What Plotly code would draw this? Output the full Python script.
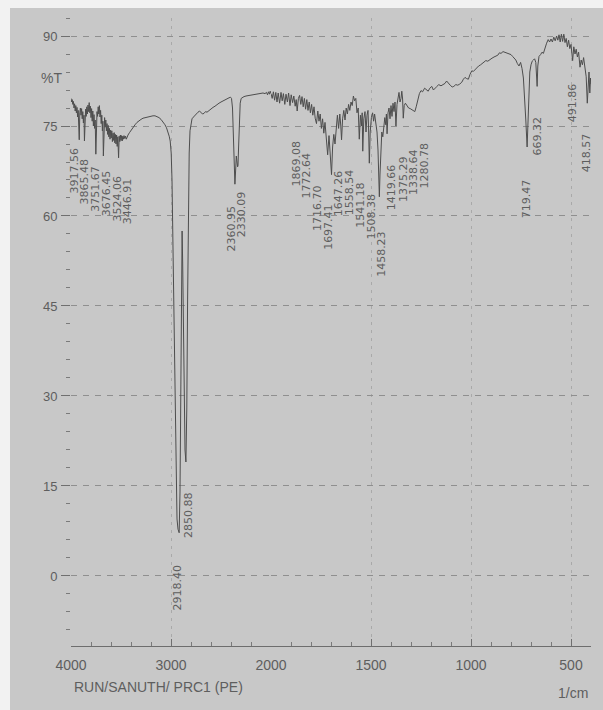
import plotly.graph_objects as go

# FTIR transmission spectrum (wavenumber in 1/cm, transmittance in %T)
WAVENUMBER = [
    4000, 3994, 3988, 3982, 3976, 3970, 3964, 3958, 3952, 3946, 3940, 3934, 3928, 3922,
    3917.56, 3912, 3906, 3900, 3894, 3888, 3882, 3876, 3870, 3865.48, 3860, 3854, 3848,
    3842, 3836, 3830, 3824, 3818, 3812, 3806, 3800, 3794, 3788, 3782, 3776, 3770, 3764,
    3758, 3751.67, 3746, 3740, 3734, 3728, 3722, 3716, 3710, 3704, 3698, 3692, 3686, 3681,
    3676.45, 3670, 3664, 3658, 3652, 3646, 3640, 3634, 3628, 3622, 3616, 3610, 3604, 3598,
    3592, 3586, 3580, 3574, 3568, 3562, 3556, 3550, 3544, 3538, 3532, 3524.06, 3518, 3512,
    3506, 3500, 3494, 3488, 3482, 3476, 3470, 3462, 3454, 3446.91, 3440, 3430, 3415, 3400,
    3380, 3360, 3340, 3320, 3300, 3280, 3260, 3240, 3220, 3200, 3180, 3160, 3140, 3120,
    3100, 3080, 3060, 3045, 3030, 3018, 3008, 2998, 2990, 2982, 2974, 2966, 2958, 2950,
    2940, 2930, 2918.40, 2910, 2902, 2896, 2889, 2883, 2876, 2868, 2860, 2850.88, 2842,
    2834, 2826, 2818, 2810, 2800, 2790, 2775, 2760, 2745, 2730, 2715, 2700, 2685, 2670,
    2655, 2640, 2620, 2600, 2580, 2560, 2540, 2520, 2500, 2480, 2460, 2440, 2420, 2405,
    2395, 2385, 2376, 2368, 2360.95, 2354, 2347, 2340, 2334, 2330.09, 2324, 2316, 2308,
    2298, 2285, 2270, 2250, 2220, 2190, 2160, 2130, 2100, 2080, 2060, 2045, 2035, 2025,
    2015, 2008, 2000,
    1994, 1988, 1982, 1976, 1970, 1964, 1957, 1950, 1944, 1938, 1931, 1925, 1918, 1912,
    1905, 1899, 1892, 1886, 1879, 1874, 1869.08, 1863, 1857, 1851, 1845, 1839, 1833, 1827,
    1821, 1815, 1809, 1803, 1797, 1791, 1785, 1779, 1772.64, 1766, 1760, 1754, 1748, 1742,
    1736, 1730, 1724, 1716.70, 1710, 1704, 1697.41, 1692, 1686, 1680, 1674, 1668, 1662,
    1656, 1651, 1647.26, 1642, 1636, 1630, 1624, 1618, 1612, 1606, 1600, 1594, 1588, 1582,
    1576, 1570, 1564, 1558.54, 1553, 1548, 1544, 1541.18, 1536, 1530, 1525, 1520, 1515,
    1512, 1508.38, 1504, 1498, 1492, 1487, 1482, 1476, 1470, 1465, 1461, 1458.23, 1455,
    1451, 1446, 1441, 1436, 1431, 1426, 1423, 1419.66, 1415, 1410, 1405, 1400, 1395, 1390,
    1385, 1380, 1375.29, 1370, 1365, 1360, 1355, 1350, 1346, 1342, 1338.64, 1334, 1328,
    1320, 1312, 1304, 1296, 1288, 1280.78, 1274, 1266, 1258, 1250, 1242, 1232, 1224, 1214,
    1206, 1196, 1188, 1180, 1170, 1162, 1150, 1140, 1130, 1122, 1112, 1104, 1094, 1086,
    1076, 1066, 1056, 1046, 1038, 1030, 1022, 1013, 1005, 996, 988, 980, 970, 962, 952,
    944, 935, 926, 916, 906, 895, 885, 875, 866, 858, 850, 840, 830, 820, 810, 800, 792,
    785, 776, 768, 760, 752, 745, 738, 732, 726, 719.47, 714, 710, 706, 700, 694, 688, 682,
    676, 672, 669.32, 666, 660, 652, 645, 638, 630, 622, 614, 607, 600, 593, 586, 579, 572,
    566, 560, 554, 548, 542, 536, 530, 524, 518, 512, 506, 500, 491.86, 486, 480, 474, 468,
    462, 455, 449, 443, 437, 430, 424, 418.57, 414, 410, 406, 402, 400,
]

TRANSMITTANCE = [
    79.6, 79.0, 79.4, 78.6, 79.1, 78.0, 78.7, 77.5, 78.4, 77.2, 78.1, 76.5, 77.6, 75.0,
    72.7, 77.2, 78.0, 76.8, 77.9, 76.2, 77.4, 75.5, 76.8, 72.5, 76.5, 77.8, 76.6,
    78.2, 77.0, 78.5, 77.4, 78.9, 77.2, 78.3, 76.4, 77.9, 75.8, 77.5, 75.0, 76.9, 74.6,
    76.0, 70.3, 76.2, 77.4, 76.6, 78.2, 77.0, 78.4, 76.5, 77.6, 75.4, 76.8, 74.2, 75.8,
    70.0, 75.3, 76.4, 74.8, 76.0, 74.2, 75.4, 73.6, 75.1, 73.2, 74.6, 72.8, 74.3, 73.0,
    74.2, 72.4, 73.8, 72.6, 73.9, 72.2, 73.6, 72.0, 73.5, 71.6, 73.2, 69.7, 73.3, 72.4,
    73.5, 72.6, 73.4, 72.5, 73.3, 72.8, 73.4, 72.9, 73.3, 72.8, 73.2, 73.5, 73.9, 74.3,
    74.8, 75.2, 75.6, 75.9, 76.1, 76.3, 76.4, 76.5, 76.6, 76.7, 76.7, 76.7, 76.6, 76.4,
    76.1, 75.7, 75.2, 74.7, 74.0, 73.3, 72.5, 70.5, 66.0, 57.0, 45.0, 33.0, 22.0, 14.0,
    9.5, 7.8, 7.2, 14.0, 32.0, 50.0, 57.5, 52.0, 38.0, 27.0, 21.0, 19.0, 28.0,
    46.0, 62.0, 70.5, 74.2, 75.6, 76.2, 76.5, 76.8, 77.1, 77.3, 77.5, 77.2, 77.0, 77.1,
    77.4, 77.3, 77.6, 77.9, 78.1, 78.3, 78.6, 78.8, 79.0, 79.2, 79.4, 79.5, 79.7, 79.8,
    79.6, 78.0, 72.0, 67.0, 65.3, 67.5, 70.0, 69.0, 68.2, 68.4, 71.5, 76.0, 78.8,
    79.6, 79.8, 79.9, 80.0, 80.1, 80.2, 80.3, 80.4, 80.4, 80.5, 80.4, 80.6, 80.2, 80.7,
    80.3, 80.8, 80.4,
    79.6, 80.7, 79.3, 80.6, 79.0, 80.5, 78.8, 80.6, 79.2, 80.4, 78.6, 80.3, 79.0, 80.5,
    78.4, 80.2, 78.9, 80.0, 78.3, 79.4, 77.5, 79.6, 80.1, 78.6, 79.9, 78.2, 79.6, 77.8,
    79.4, 77.6, 79.0, 77.2, 78.6, 76.8, 78.2, 76.3, 75.4, 77.5, 75.8, 77.0, 74.6, 76.2,
    73.8, 75.6, 73.0, 70.2, 73.4, 71.0, 66.9, 71.5, 73.6, 72.0, 75.0, 76.8, 74.6,
    77.0, 75.0, 72.7, 76.2, 77.6, 76.0, 78.0, 77.0, 78.6, 77.6, 79.0, 78.4, 80.0, 79.2,
    79.6, 77.2, 78.0, 72.8, 76.8, 75.0, 77.2, 70.8, 76.2, 77.4, 74.0, 76.8, 77.6,
    74.5, 68.8, 74.0, 76.4, 77.2, 75.8, 77.0, 75.2, 74.0, 71.0, 66.0, 63.2, 67.0,
    72.0, 74.0, 73.2, 75.4, 76.4, 75.2, 77.0, 73.7, 77.2, 78.0, 76.2, 78.4, 76.6, 78.8,
    77.4, 79.0, 75.0, 78.6, 80.0, 80.6, 79.0, 79.6, 80.8, 79.5, 76.3, 78.4, 78.8,
    78.4, 78.0, 77.9, 77.7, 77.6, 77.4, 78.2, 79.4, 80.4, 80.9, 80.7, 81.3, 81.0, 80.8,
    81.3, 81.6, 81.0, 81.2, 81.6, 81.9, 81.7, 81.9, 82.1, 82.5, 82.0, 81.8, 81.5, 81.6,
    81.9, 81.8, 82.0, 82.3, 82.8, 83.1, 82.9, 82.8, 83.6, 84.2, 84.1, 84.4, 84.8, 85.0, 85.2,
    85.4, 85.7, 85.9, 85.8, 86.1, 86.3, 86.5, 86.7, 86.8, 87.2, 87.1, 87.4, 87.3, 87.2, 87.1, 86.9, 86.6,
    86.4, 86.0, 85.4, 85.0, 85.6, 84.6, 83.0, 80.0, 76.0, 71.5, 76.0, 81.0, 84.0, 85.2, 85.8, 86.0, 86.2,
    85.6, 84.0, 81.6, 85.0, 86.6, 86.9, 87.3, 87.1, 88.2, 88.8, 89.4, 89.0, 89.5, 89.0, 89.8, 89.2, 90.0,
    89.3, 90.2, 89.0, 90.3, 89.1, 90.3, 88.9, 89.6, 88.2, 89.3, 87.9, 88.6, 85.9, 88.2, 87.0, 87.8, 86.5,
    87.3, 84.8, 86.0, 85.2, 86.4, 84.4, 83.2, 78.8, 82.5, 84.0, 80.5, 83.0, 82.0,
]

# Peak annotations and the %T level where each label's top edge sits
PEAK_LABELS = [
    "3917.56", "3865.48", "3751.67", "3676.45", "3524.06", "3446.91",
    "2918.40", "2850.88", "2360.95", "2330.09",
    "1869.08", "1772.64", "1716.70", "1697.41", "1647.26", "1558.54", "1541.18",
    "1508.38", "1458.23", "1419.66", "1375.29", "1338.64", "1280.78",
    "719.47", "669.32", "491.86", "418.57",
]
LABEL_TOPS = [
    71.7, 70.0, 68.7, 67.9, 67.1, 66.6,
    2.3, 14.3, 62.1, 64.4,
    72.9, 71.0, 65.5, 62.3, 68.0, 68.1, 66.1,
    64.1, 57.8, 69.0, 70.3, 71.6, 72.6,
    66.5, 76.9, 82.5, 74.1,
]

Y_TICKS = [0, 15, 30, 45, 60, 75, 90]
X_TICKS_HIGH = [4000, 3000]
X_TICKS_LOW = [2000, 1500, 1000, 500]

BG = "#c8c8c8"
INK = "#4d4d4d"
TEXT = "#5e5e5e"
FONT = "Liberation Sans, Arial, sans-serif"
LABEL_FONT = "DejaVu Sans, Verdana, sans-serif"

W, H = 603, 710
# plot area in pixels; wavenumber axis changes scale at 2000 1/cm
X_LEFT, X_MID, X_RIGHT = 71, 271, 591
Y_TOP, Y_BOTTOM = 18, 646
LABEL_GAP = 10.6  # minimum horizontal spacing between vertical peak labels


def wn_to_px(wn):
    if wn >= 2000:
        return X_LEFT + (4000 - wn) / 2000 * (X_MID - X_LEFT)
    return X_MID + (2000 - wn) / 1600 * (X_RIGHT - X_MID)


def spread_labels(centers, gap):
    """Push crowded label positions apart, keeping each group centred."""
    groups = [[c] for c in sorted(centers)]

    def placed(g):
        mid = sum(g) / len(g)
        start = mid - (len(g) - 1) * gap / 2
        return [start + i * gap for i in range(len(g))]

    merged = True
    while merged:
        merged = False
        for i in range(len(groups) - 1):
            if placed(groups[i + 1])[0] - placed(groups[i])[-1] < gap:
                groups[i] = groups[i] + groups.pop(i + 1)
                merged = True
                break
    out = {}
    for g in groups:
        for c, p in zip(g, placed(g)):
            out[c] = p
    return out


high = [(w, t) for w, t in zip(WAVENUMBER, TRANSMITTANCE) if w >= 2000]
low = [(w, t) for w, t in zip(WAVENUMBER, TRANSMITTANCE) if w <= 2000]

fig = go.Figure()
fig.add_trace(go.Scatter(
    x=[p[0] for p in high], y=[p[1] for p in high], mode="lines",
    line=dict(color=INK, width=1), xaxis="x", yaxis="y", showlegend=False,
    hoverinfo="skip",
))
fig.add_trace(go.Scatter(
    x=[p[0] for p in low], y=[p[1] for p in low], mode="lines",
    line=dict(color=INK, width=1), xaxis="x2", yaxis="y", showlegend=False,
    hoverinfo="skip",
))

dip_px = [wn_to_px(float(lab)) for lab in PEAK_LABELS]
label_px = spread_labels(dip_px, LABEL_GAP)

annotations = []
for lab, top, px in zip(PEAK_LABELS, LABEL_TOPS, dip_px):
    wn = float(lab)
    annotations.append(dict(
        x=wn, y=top, xref="x" if wn > 2000 else "x2", yref="y",
        xshift=label_px[px] - px,
        text=lab, textangle=-90, showarrow=False,
        xanchor="center", yanchor="top",
        font=dict(family=LABEL_FONT, size=11, color=TEXT),
    ))

annotations += [
    dict(x=51 / W, y=(H - 78) / H, xref="paper", yref="paper", text="%T",
         showarrow=False, xanchor="center", yanchor="middle",
         font=dict(family=FONT, size=14, color=TEXT)),
    dict(x=72 / W, y=(H - 687) / H, xref="paper", yref="paper",
         text="RUN/SANUTH/ PRC1 (PE)", showarrow=False,
         xanchor="left", yanchor="middle",
         font=dict(family=FONT, size=14, color=TEXT)),
    dict(x=590 / W, y=(H - 693) / H, xref="paper", yref="paper", text="1/cm",
         showarrow=False, xanchor="right", yanchor="middle",
         font=dict(family=FONT, size=14, color=TEXT)),
]

common_x = dict(
    showline=True, linecolor="#6e6e6e", linewidth=1,
    ticks="inside", ticklen=7, tickcolor="#707070",
    tickfont=dict(family=FONT, size=14, color=TEXT),
    ticklabelstandoff=6,
    showgrid=True, gridcolor="#a9a9a9", griddash="3px,5px", gridwidth=1,
    zeroline=False, anchor="y", fixedrange=True, automargin=False,
)

fig.update_layout(
    width=W, height=H,
    margin=dict(l=0, r=0, t=0, b=0, autoexpand=False),
    paper_bgcolor=BG, plot_bgcolor=BG,
    xaxis=dict(
        domain=[X_LEFT / W, X_MID / W], range=[4000, 2000],
        tickmode="array", tickvals=X_TICKS_HIGH,
        ticktext=[str(v) for v in X_TICKS_HIGH],
        minor=dict(ticks="inside", ticklen=4, tickcolor="#7a7a7a", dtick=200, tick0=4000,
                   showgrid=False),
        **common_x,
    ),
    xaxis2=dict(
        domain=[X_MID / W, X_RIGHT / W], range=[2000, 400],
        tickmode="array", tickvals=X_TICKS_LOW,
        ticktext=[str(v) for v in X_TICKS_LOW],
        minor=dict(ticks="inside", ticklen=4, tickcolor="#7a7a7a", dtick=100, tick0=2000,
                   showgrid=False),
        **common_x,
    ),
    yaxis=dict(
        domain=[(H - Y_BOTTOM) / H, (H - Y_TOP) / H], range=[-11.67, 93],
        anchor="x", tickmode="array", tickvals=Y_TICKS,
        ticktext=[str(v) for v in Y_TICKS],
        ticks="outside", ticklen=9, tickcolor="#707070",
        ticklabelstandoff=1,
        minor=dict(ticks="outside", ticklen=4, tickcolor="#7a7a7a", dtick=3, tick0=0,
                   showgrid=False),
        tickfont=dict(family=FONT, size=13, color=TEXT),
        showline=False, zeroline=False, automargin=False,
        showgrid=True, gridcolor="#8f8f8f", griddash="6px,6px", gridwidth=1,
        fixedrange=True,
    ),
    annotations=annotations,
    shapes=[
        # unscanned paper edge along the left and top
        dict(type="rect", xref="paper", yref="paper", x0=0, x1=10 / W, y0=0, y1=1,
             fillcolor="#f2f2f2", line=dict(width=0), layer="below"),
        dict(type="rect", xref="paper", yref="paper", x0=0, x1=1, y0=(H - 8) / H, y1=1,
             fillcolor="#f2f2f2", line=dict(width=0), layer="below"),
    ],
)

fig.write_html("out.html")
